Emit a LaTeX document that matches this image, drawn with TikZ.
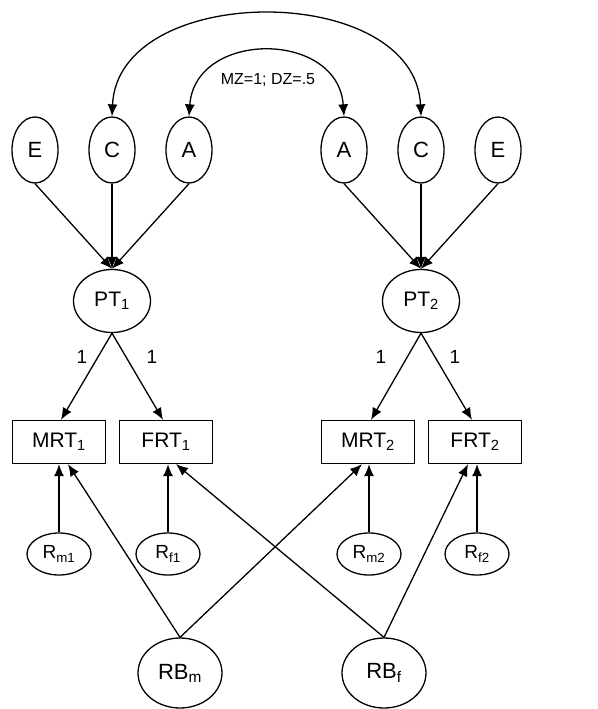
\documentclass[tikz,border=0pt]{standalone}
\usepackage{fontspec}
\setmainfont{Liberation Sans}
\usetikzlibrary{shapes.geometric,arrows.meta}
\begin{document}
\begin{tikzpicture}[x=1pt,y=-1pt,
  lat/.style={ellipse,draw,line width=1.3pt,minimum width=46pt,minimum height=66pt,inner sep=0pt,font=\fontsize{22}{26}\selectfont},
  ptn/.style={ellipse,draw,line width=1.3pt,minimum width=77pt,minimum height=63pt,inner sep=0pt,font=\fontsize{21}{25}\selectfont},
  obs/.style={rectangle,draw,line width=1.3pt,minimum width=93pt,minimum height=43pt,inner sep=0pt,font=\fontsize{21}{25}\selectfont},
  res/.style={ellipse,draw,line width=1.3pt,minimum width=64pt,minimum height=42pt,inner sep=0pt,font=\fontsize{19}{23}\selectfont},
  rbn/.style={ellipse,draw,line width=1.3pt,minimum width=84pt,minimum height=70pt,inner sep=0pt,font=\fontsize{22}{26}\selectfont},
  arr/.style={line width=1.3pt,-{Latex[length=12pt,width=10pt]}},
  darr/.style={line width=1.3pt,{Latex[length=12pt,width=10pt]}-{Latex[length=12pt,width=10pt]}},
  lbl/.style={font=\fontsize{19}{23}\selectfont,inner sep=0pt}
]
\useasboundingbox (0,0) rectangle (597,709);
\fill[white] (0,0) rectangle (597,709);
% latent ACE
\node[lat] (E1) at (35,150) {E};
\node[lat] (C1) at (112,150) {C};
\node[lat] (A1) at (189,150) {A};
\node[lat] (A2) at (344,150) {A};
\node[lat] (C2) at (421,150) {C};
\node[lat] (E2) at (498,150) {E};
% PT
\node[ptn] (PT1) at (112,301) {PT\textsubscript{1}};
\node[ptn] (PT2) at (421,301) {PT\textsubscript{2}};
% observed
\node[obs] (MRT1) at (59,442) {MRT\textsubscript{1}};
\node[obs] (FRT1) at (166,442) {FRT\textsubscript{1}};
\node[obs] (MRT2) at (368,442) {MRT\textsubscript{2}};
\node[obs] (FRT2) at (475,442) {FRT\textsubscript{2}};
% residuals
\node[res] (Rm1) at (59,554) {R\textsubscript{m1}};
\node[res] (Rf1) at (168,554) {R\textsubscript{f1}};
\node[res] (Rm2) at (369,554) {R\textsubscript{m2}};
\node[res] (Rf2) at (477,554) {R\textsubscript{f2}};
% RB
\node[rbn] (RBm) at (180,673) {RB\textsubscript{m}};
\node[rbn] (RBf) at (384,673) {RB\textsubscript{f}};
% arcs
\draw[darr] (C1.north) .. controls (118,-19) and (415,-19) .. (C2.north);
\draw[darr] (A1.north) .. controls (195,30) and (338,30) .. (A2.north);
\node[font=\fontsize{16}{19}\selectfont,inner sep=0pt] (mz) at (268,80) {MZ=1; DZ=.5};
% ACE -> PT
\foreach \s in {E1,C1,A1} \draw[arr] (\s.south) -- (PT1.north);
\foreach \s in {E2,C2,A2} \draw[arr] (\s.south) -- (PT2.north);
% PT -> observed
\draw[arr] (PT1.south) -- ([xshift=2pt]MRT1.north);
\draw[arr] (PT1.south) -- ([xshift=-3pt]FRT1.north);
\draw[arr] (PT2.south) -- ([xshift=3pt]MRT2.north);
\draw[arr] (PT2.south) -- ([xshift=-3pt]FRT2.north);
\node[lbl] (l1) at (82,357) {1};
\node[lbl] (l2) at (152,357) {1};
\node[lbl] (l3) at (381,357) {1};
\node[lbl] (l4) at (455,357) {1};
% residuals -> observed
\draw[arr] (Rm1.north) -- (Rm1.north |- MRT1.south);
\draw[arr] (Rf1.north) -- (Rf1.north |- FRT1.south);
\draw[arr] (Rm2.north) -- (Rm2.north |- MRT2.south);
\draw[arr] (Rf2.north) -- (Rf2.north |- FRT2.south);
% RB -> observed
\draw[arr] (RBm.north) -- ([xshift=9pt]MRT1.south);
\draw[arr] (RBm.north) -- ([xshift=-6pt]MRT2.south);
\draw[arr] (RBf.north) -- ([xshift=10pt]FRT1.south);
\draw[arr] (RBf.north) -- ([xshift=-7pt]FRT2.south);
\end{tikzpicture}
\end{document}
